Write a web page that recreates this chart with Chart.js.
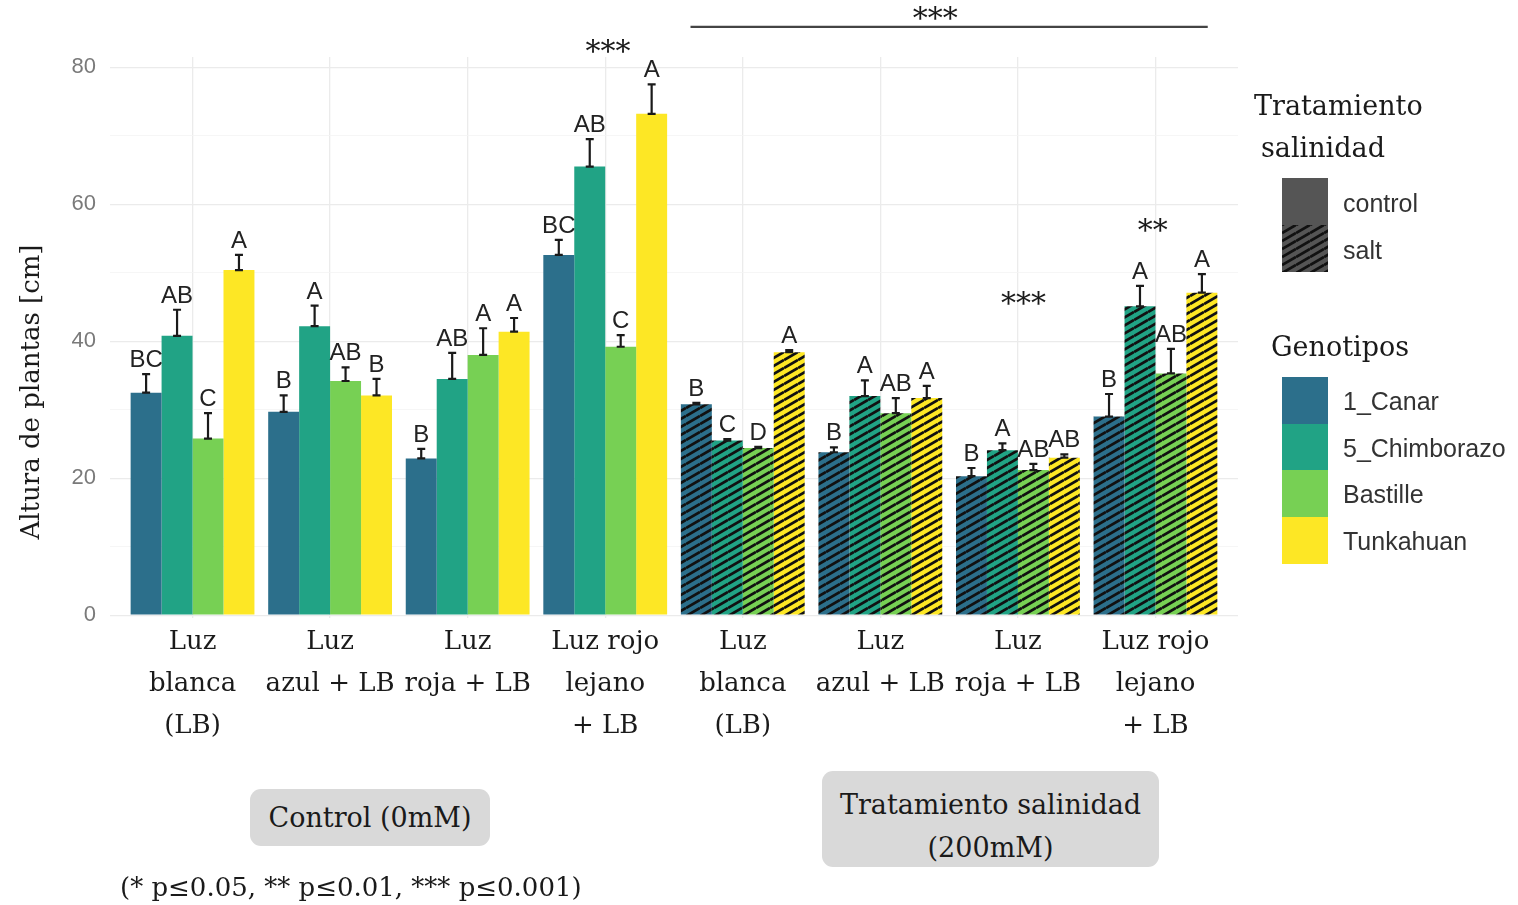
<!DOCTYPE html>
<html>
<head>
<meta charset="utf-8">
<script src="https://cdn.jsdelivr.net/npm/chart.js@4.4.0/dist/chart.umd.min.js"></script>
<style>
  body { margin: 0; background: #fff; }
  #wrap { position: relative; width: 1518px; height: 905px; overflow: hidden; }
  #chart { position: absolute; left: 0; top: 0; }
  .serif { font-family: 'DejaVu Serif', Georgia, serif; color: #1a1a1a; }
  .sans { font-family: 'Liberation Sans', Arial, sans-serif; color: #333; }
  .abs { position: absolute; white-space: nowrap; }
  .ytitle { left: -170px; top: 372px; width: 400px; height: 40px; line-height: 40px;
            text-align: center; font-size: 26px; transform: rotate(-90deg); }
  .box { background: #d9d9d9; border-radius: 11px; text-align: center; font-size: 27px; }
  .key { position: absolute; left: 1282px; width: 46px; }
  .klab { font-size: 25px; }
</style>
</head>
<body>
<div id="wrap">
  <canvas id="chart" width="1518" height="905"></canvas>

  <div class="abs serif ytitle">Altura de plantas [cm]</div>

  <!-- legend: treatment -->
  <div class="abs serif" style="left:1254px;top:86px;font-size:27px;line-height:40px">Tratamiento</div>
  <div class="abs serif" style="left:1261px;top:128px;font-size:27px;line-height:40px">salinidad</div>
  <div class="key" style="top:178px;height:47px;background:#555"></div>
  <canvas class="key" id="saltKey" width="46" height="47" style="top:225px;height:47px"></canvas>
  <div class="abs sans klab" style="left:1343px;top:189px">control</div>
  <div class="abs sans klab" style="left:1343px;top:236px">salt</div>

  <!-- legend: genotypes -->
  <div class="abs serif" style="left:1271px;top:327px;font-size:27px;line-height:40px">Genotipos</div>
  <div id="genoKeys"></div>

  <!-- group boxes and footnote -->
  <div class="abs serif box" style="left:250px;top:789px;width:240px;height:57px;line-height:57px">Control (0mM)</div>
  <div class="abs serif box" style="left:822px;top:771px;width:337px;height:96px;line-height:43px;padding-top:12px;box-sizing:border-box">Tratamiento salinidad<br>(200mM)</div>
  <div class="abs serif" style="left:120px;top:867px;font-size:26px;line-height:40px">(* p≤0.05, ** p≤0.01, *** p≤0.001)</div>
</div>

<script>
// categories (light treatment), first four control, last four salt
const categories = [
  ['Luz', 'blanca', '(LB)'], ['Luz', 'azul + LB'], ['Luz', 'roja + LB'], ['Luz rojo', 'lejano', '+ LB'],
  ['Luz', 'blanca', '(LB)'], ['Luz', 'azul + LB'], ['Luz', 'roja + LB'], ['Luz rojo', 'lejano', '+ LB']
];
const saltFlags = [false, false, false, false, true, true, true, true];

const genotypes = ['1_Canar', '5_Chimborazo', 'Bastille', 'Tunkahuan'];
const genoColors = ['#2c6f8b', '#21a385', '#77d054', '#fde725'];

// plant height [cm] and error
const canar      = [32.5, 29.7, 22.9, 52.6, 30.8, 23.8, 20.3, 29.0];
const canarErr   = [2.7, 2.4, 1.4, 2.2, 0.2, 0.7, 1.2, 3.3];
const chimborazo = [40.8, 42.2, 34.5, 65.5, 25.5, 32.0, 24.1, 45.1];
const chimbErr   = [3.8, 3.0, 3.8, 4.0, 0.2, 2.3, 1.0, 3.0];
const bastille   = [25.8, 34.2, 38.0, 39.2, 24.4, 29.5, 21.2, 35.3];
const bastErr    = [3.7, 2.0, 3.9, 1.7, 0.2, 2.2, 0.9, 3.6];
const tunkahuan  = [50.4, 32.1, 41.4, 73.2, 38.4, 31.7, 23.0, 47.1];
const tunkErr    = [2.2, 2.4, 2.0, 4.3, 0.3, 1.8, 0.5, 2.7];

// Tukey letters
const canarLetters = ['BC', 'B', 'B', 'BC', 'B', 'B', 'B', 'B'];
const chimbLetters = ['AB', 'A', 'AB', 'AB', 'C', 'A', 'A', 'A'];
const bastLetters  = ['C', 'AB', 'A', 'C', 'D', 'AB', 'AB', 'AB'];
const tunkLetters  = ['A', 'B', 'A', 'A', 'A', 'A', 'AB', 'A'];

// significance marks (x in category units, y in cm)
const sigText = ['***', '***', '***', '**'];
const sigX = [4.02, 6.4, 7.04, 7.98];
const sigY = [82.0, 86.8, 45.3, 55.9];
const bracketFrom = 4.62, bracketTo = 8.38, bracketY = 85.9;

const yTicks = [0, 10, 20, 30, 40, 50, 60, 70, 80];

const series = [
  { values: canar, errors: canarErr, letters: canarLetters },
  { values: chimborazo, errors: chimbErr, letters: chimbLetters },
  { values: bastille, errors: bastErr, letters: bastLetters },
  { values: tunkahuan, errors: tunkErr, letters: tunkLetters }
];

// diagonal hatch used for the salt treatment
const makeHatch = (color) => {
  const w = 14, h = 8;
  const tile = document.createElement('canvas');
  tile.width = w; tile.height = h;
  const c = tile.getContext('2d');
  c.fillStyle = color;
  c.fillRect(0, 0, w, h);
  c.strokeStyle = '#111';
  c.lineWidth = 2.8;
  for (let k = -1; k <= 1; k++) {
    c.beginPath();
    c.moveTo(0, h + k * h);
    c.lineTo(w, k * h);
    c.stroke();
  }
  return document.getElementById('chart').getContext('2d').createPattern(tile, 'repeat');
};

// legend keys
const saltKey = document.getElementById('saltKey').getContext('2d');
saltKey.fillStyle = makeHatch('#555');
saltKey.fillRect(0, 0, 46, 47);

const keysDiv = document.getElementById('genoKeys');
genotypes.forEach((g, i) => {
  const top = 377 + i * 46.5;
  keysDiv.insertAdjacentHTML('beforeend',
    `<div class="key" style="top:${top}px;height:47px;background:${genoColors[i]}"></div>` +
    `<div class="abs sans klab" style="left:1343px;top:${top + 10}px">${g}</div>`);
});

const datasets = series.map((s, di) => ({
  label: genotypes[di],
  data: s.values.map((v, i) => ({ x: i + 1, y: v })),
  backgroundColor: s.values.map((v, i) => saltFlags[i] ? makeHatch(genoColors[di]) : genoColors[di]),
  borderWidth: 0,
  categoryPercentage: 0.9,
  barPercentage: 1.0
}));

// error bars, letters and significance marks
const overlay = {
  id: 'overlay',
  afterDatasetsDraw(chart) {
    const { ctx, scales: { x, y } } = chart;
    ctx.save();
    ctx.strokeStyle = '#1a1a1a';
    ctx.lineWidth = 2.2;
    ctx.fillStyle = '#222';
    ctx.font = '24px "Liberation Sans", Arial, sans-serif';
    ctx.textAlign = 'center';
    ctx.textBaseline = 'alphabetic';
    series.forEach((s, di) => {
      chart.getDatasetMeta(di).data.forEach((bar, i) => {
        const base = y.getPixelForValue(s.values[i]);
        const top = y.getPixelForValue(s.values[i] + s.errors[i]);
        ctx.beginPath();
        ctx.moveTo(bar.x, base); ctx.lineTo(bar.x, top);
        ctx.moveTo(bar.x - 4, base); ctx.lineTo(bar.x + 4, base);
        ctx.moveTo(bar.x - 4, top); ctx.lineTo(bar.x + 4, top);
        ctx.stroke();
        ctx.fillText(s.letters[i], bar.x, top - 7);
      });
    });

    ctx.font = '30px "DejaVu Serif", Georgia, serif';
    ctx.fillStyle = '#1a1a1a';
    ctx.textBaseline = 'middle';
    sigText.forEach((t, i) => {
      ctx.fillText(t, x.getPixelForValue(sigX[i]), y.getPixelForValue(sigY[i]));
    });
    ctx.strokeStyle = '#444';
    ctx.lineWidth = 2.4;
    ctx.beginPath();
    ctx.moveTo(x.getPixelForValue(bracketFrom), y.getPixelForValue(bracketY));
    ctx.lineTo(x.getPixelForValue(bracketTo), y.getPixelForValue(bracketY));
    ctx.stroke();
    ctx.restore();
  }
};

new Chart(document.getElementById('chart'), {
  type: 'bar',
  data: { datasets },
  options: {
    responsive: false,
    animation: false,
    layout: { padding: { left: 0, right: 280, top: 57, bottom: 137 } },
    plugins: { legend: { display: false }, tooltip: { enabled: false } },
    scales: {
      x: {
        type: 'linear',
        min: 0.4,
        max: 8.6,
        offset: false,
        afterFit: (scale) => { scale.height = 150; },
        afterBuildTicks: (scale) => { scale.ticks = categories.map((c, i) => ({ value: i + 1 })); },
        border: { display: false },
        grid: { color: '#ebebeb', lineWidth: 1.3, drawTicks: false, offset: false },
        ticks: {
          autoSkip: false,
          maxRotation: 0,
          minRotation: 0,
          padding: 3,
          color: '#1a1a1a',
          font: { family: 'DejaVu Serif', size: 26, lineHeight: 1.62 },
          callback: (v) => categories[Math.round(v) - 1]
        }
      },
      y: {
        min: -0.4,
        max: 81.5,
        afterFit: (scale) => { scale.width = 110; },
        afterBuildTicks: (scale) => { scale.ticks = yTicks.map(v => ({ value: v })); },
        border: { display: false },
        grid: {
          drawTicks: false,
          color: (c) => c.tick && c.tick.value % 20 === 0 ? '#ebebeb' : '#f4f4f4',
          lineWidth: (c) => c.tick && c.tick.value % 20 === 0 ? 1.3 : 0.8
        },
        ticks: {
          padding: 14,
          color: '#7a7a7a',
          font: { family: 'Liberation Sans', size: 22 },
          callback: (v) => v % 20 === 0 ? String(v) : ''
        }
      }
    }
  },
  plugins: [overlay]
});
</script>
</body>
</html>
